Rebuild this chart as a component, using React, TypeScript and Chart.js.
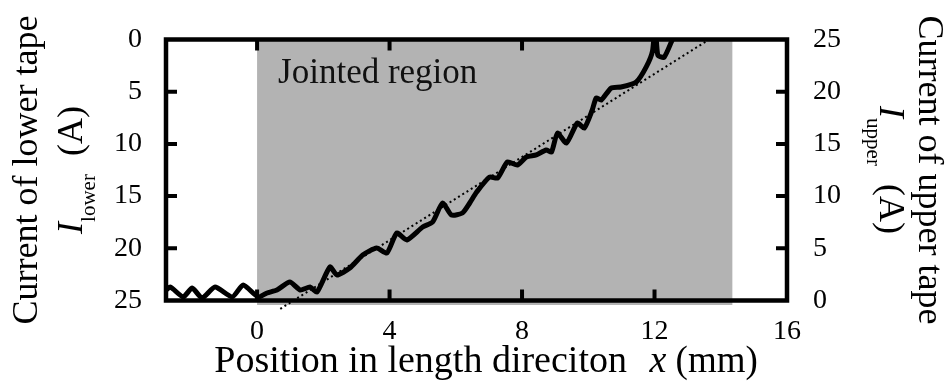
import React, { useEffect, useRef } from "react";
import { Chart, registerables } from "chart.js";

Chart.register(...registerables);

// ---- data (x in mm, current of upper tape in A; lower tape = 25 - upper) ----
const positionMm = [
  -2.75, -2.62, -2.23, -1.96, -1.66, -1.27, -0.75, -0.42, 0.03, 0.3, 0.6, 0.99,
  1.3, 1.6, 1.81, 2.2, 2.41, 2.8, 3.19, 3.61, 3.92, 4.22, 4.52, 5.0, 5.3, 5.6,
  5.87, 6.2, 6.42, 6.63, 7.02, 7.26, 7.56, 7.86, 8.13, 8.43, 8.73, 8.89, 9.07,
  9.34, 9.67, 9.88, 10.12, 10.24, 10.39, 10.69, 10.99, 11.45, 11.75, 11.94,
  12.02, 12.1, 12.29, 12.56, 12.74,
];
const upperCurrent = [
  1.0, 1.29, 0.34, 1.2, 0.24, 1.29, 0.34, 1.48, 0.34, 0.72, 1.01, 1.77, 1.01,
  1.29, 0.81, 3.21, 2.44, 3.11, 4.36, 5.03, 4.55, 6.47, 5.8, 7.04, 7.52, 9.34,
  8.19, 8.38, 9.34, 10.39, 11.83, 11.73, 13.27, 12.98, 13.74, 13.94, 14.42,
  14.22, 16.04, 15.08, 17.0, 16.52, 18.25, 19.4, 19.2, 20.35, 20.45, 20.93,
  22.37, 23.9, 26.5, 23.5, 23.3, 25.15, 26.3,
];
const fitLineX = [0.7, 13.55];
const fitLineY = [-0.8, 24.8];
const xTickValues = [0, 4, 8, 12, 16];
const yTickValues = [0, 5, 10, 15, 20, 25];
const jointedRegion = [0, 14.35];
const xRange = [-2.75, 16];
const yRange = [0, 25];

const SERIF_CSS = "'Liberation Serif', 'Times New Roman', serif";

type Seg = { text: string; size: number; italic?: boolean; dy?: number };

function drawRich(
  ctx: CanvasRenderingContext2D,
  cx: number,
  cy: number,
  angle: number,
  segs: Seg[]
) {
  ctx.save();
  ctx.translate(cx, cy);
  ctx.rotate(angle);
  ctx.textBaseline = "alphabetic";
  ctx.textAlign = "left";
  ctx.fillStyle = "#000";
  const widths = segs.map((s) => {
    ctx.font = `${s.italic ? "italic " : ""}${s.size}px ${SERIF_CSS}`;
    return ctx.measureText(s.text).width;
  });
  const total = widths.reduce((a, b) => a + b, 0);
  let x = -total / 2;
  segs.forEach((s, i) => {
    ctx.font = `${s.italic ? "italic " : ""}${s.size}px ${SERIF_CSS}`;
    ctx.fillText(s.text, x, s.dy || 0);
    x += widths[i];
  });
  ctx.restore();
}

const framePlugin = {
  id: "frame",
  beforeDatasetsDraw(chart: any) {
    const { ctx, chartArea, scales } = chart;
    const x0 = scales.x.getPixelForValue(jointedRegion[0]);
    const x1 = scales.x.getPixelForValue(jointedRegion[1]);
    ctx.save();
    ctx.fillStyle = "#b3b3b3";
    ctx.fillRect(x0, chartArea.top, x1 - x0, chartArea.bottom - chartArea.top + 4.5);
    ctx.fillStyle = "#111";
    ctx.font = `35px ${SERIF_CSS}`;
    ctx.textBaseline = "alphabetic";
    ctx.textAlign = "left";
    ctx.fillText("Jointed region", x0 + 21, chartArea.top + 43);
    ctx.restore();
  },
  afterDatasetsDraw(chart: any) {
    const { ctx, chartArea, scales } = chart;
    const { left, right, top, bottom } = chartArea;
    ctx.save();
    ctx.strokeStyle = "#000";
    ctx.lineWidth = 4;
    const tl = 11;
    ctx.beginPath();
    xTickValues.forEach((v) => {
      const px = scales.x.getPixelForValue(v);
      if (px <= left + 2 || px >= right - 2) return;
      ctx.moveTo(px, bottom);
      ctx.lineTo(px, bottom - tl);
      ctx.moveTo(px, top);
      ctx.lineTo(px, top + tl);
    });
    yTickValues.forEach((v) => {
      const pl = scales.yL.getPixelForValue(v);
      if (pl > top + 2 && pl < bottom - 2) {
        ctx.moveTo(left, pl);
        ctx.lineTo(left + tl, pl);
      }
      const pr = scales.yR.getPixelForValue(v);
      if (pr > top + 2 && pr < bottom - 2) {
        ctx.moveTo(right, pr);
        ctx.lineTo(right - tl, pr);
      }
    });
    ctx.stroke();
    ctx.lineWidth = 4.5;
    ctx.strokeRect(left, top, right - left, bottom - top);
    ctx.restore();

    // axis titles
    const cyMid = (top + bottom) / 2;
    drawRich(ctx, 37, cyMid, -Math.PI / 2, [{ text: "Current of lower tape", size: 36 }]);
    drawRich(ctx, 82, cyMid, -Math.PI / 2, [
      { text: "I", size: 36, italic: true },
      { text: "lower", size: 21, dy: 13 },
      { text: "  (A)", size: 36 },
    ]);
    drawRich(ctx, 919, cyMid, Math.PI / 2, [{ text: "Current of upper tape", size: 36 }]);
    drawRich(ctx, 880, cyMid, Math.PI / 2, [
      { text: "I", size: 36, italic: true },
      { text: "upper", size: 21, dy: 13 },
      { text: "  (A)", size: 36 },
    ]);
    drawRich(ctx, 486, 372, 0, [
      { text: "Position in length direciton", size: 38 },
      { text: "   ", size: 30 },
      { text: "x", size: 38, italic: true },
      { text: " (mm)", size: 37 },
    ]);
  },
};

export default function App() {
  const ref = useRef<HTMLCanvasElement | null>(null);

  useEffect(() => {
    if (!ref.current) return;
    Chart.defaults.font.family = SERIF_CSS;
    Chart.defaults.font.size = 28;
    const tickFont = { family: SERIF_CSS, size: 28 };
    const chart = new Chart(ref.current, {
      type: "line",
      data: {
        datasets: [
          {
            label: "measured",
            data: positionMm.map((x, i) => ({ x, y: upperCurrent[i] })),
            yAxisID: "yR",
            borderColor: "#000",
            borderWidth: 5,
            pointRadius: 0,
            tension: 0.2,
            borderJoinStyle: "round",
            borderCapStyle: "round",
            clip: 0,
          } as any,
          {
            label: "fit",
            data: fitLineX.map((x, i) => ({ x, y: fitLineY[i] })),
            yAxisID: "yR",
            borderColor: "#000",
            borderWidth: 2,
            borderDash: [2, 3],
            pointRadius: 0,
            tension: 0,
            clip: false,
          } as any,
        ],
      },
      options: {
        animation: false,
        responsive: true,
        maintainAspectRatio: false,
        layout: { padding: { top: 39.5, left: 0, right: 0, bottom: 0 } },
        plugins: { legend: { display: false }, tooltip: { enabled: false } },
        scales: {
          x: {
            type: "linear",
            position: "bottom",
            min: xRange[0],
            max: xRange[1],
            grid: { display: false },
            border: { display: false },
            afterBuildTicks: (s: any) => {
              s.ticks = xTickValues.map((v) => ({ value: v }));
            },
            afterFit: (s: any) => {
              s.height = 82.5;
            },
            ticks: { color: "#000", font: tickFont, padding: 6, maxRotation: 0 },
          },
          yL: {
            type: "linear",
            position: "left",
            reverse: true,
            min: yRange[0],
            max: yRange[1],
            grid: { display: false },
            border: { display: false },
            afterBuildTicks: (s: any) => {
              s.ticks = yTickValues.map((v) => ({ value: v }));
            },
            afterFit: (s: any) => {
              s.width = 166;
            },
            ticks: { color: "#000", font: tickFont, padding: 16 },
          },
          yR: {
            type: "linear",
            position: "right",
            min: yRange[0],
            max: yRange[1],
            grid: { display: false },
            border: { display: false },
            afterBuildTicks: (s: any) => {
              s.ticks = yTickValues.map((v) => ({ value: v }));
            },
            afterFit: (s: any) => {
              s.width = 161;
            },
            ticks: { color: "#000", font: tickFont, padding: 18 },
          },
        },
      } as any,
      plugins: [framePlugin],
    });
    return () => chart.destroy();
  }, []);

  return (
    <div style={{ position: "absolute", left: 0, top: 0, width: 948, height: 383, background: "#fff" }}>
      <canvas ref={ref} />
    </div>
  );
}
